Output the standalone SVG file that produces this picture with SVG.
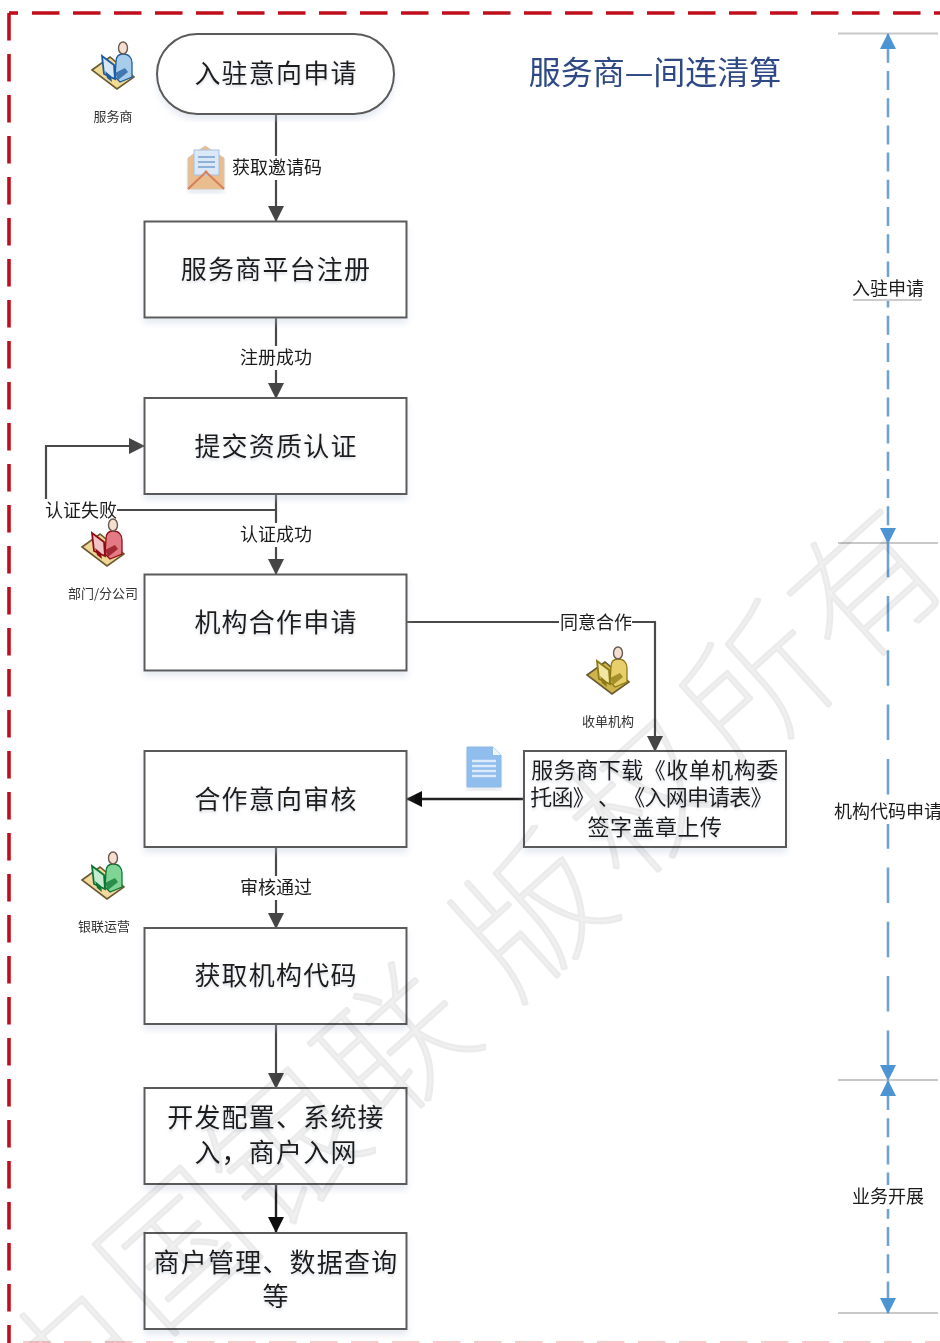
<svg xmlns="http://www.w3.org/2000/svg" width="940" height="1343" viewBox="0 0 940 1343">
<style>
text{font-family:"Noto Sans CJK SC","Liberation Sans",sans-serif;fill:#1c1c1c;text-anchor:middle;text-spacing-trim:space-all}
.box{fill:#fff;stroke:#5a5a5a;stroke-width:2;filter:url(#sh)}
.t{font-size:26px;letter-spacing:1.2px;filter:url(#ts)}
.t2{font-size:22px;letter-spacing:.5px;filter:url(#ts)}
.lb{font-size:18px}
.lbbg{fill:#fff}
.sm{font-size:13px;fill:#333}
.c{fill:none;stroke:#4a4a4a;stroke-width:2.2}
.k{fill:none;stroke:#222;stroke-width:2.4}
.blue{fill:none;stroke:#6fa3cf;stroke-width:2.6;stroke-dasharray:19 8.2}
.blue2{fill:none;stroke:#6fa3cf;stroke-width:2.6;stroke-dasharray:35.500 18.800}
.tick{stroke:#c8c8c8;stroke-width:2;fill:none}
.wm text{font-size:145px;font-weight:100;fill:#f0f0f0;stroke:#ebebeb;stroke-width:2.5;stroke-linejoin:bevel}
.wm{mix-blend-mode:multiply}
.red{fill:none;stroke:#c00d1e;stroke-width:3.600;stroke-dasharray:27.500 13.500}
</style>
<defs>
<filter id="soft" filterUnits="userSpaceOnUse" x="0" y="0" width="940" height="1343"><feGaussianBlur stdDeviation="0.4"/></filter>
<filter id="sh" x="-5%" y="-5%" width="110%" height="115%"><feDropShadow dx="0" dy="5" stdDeviation="3" flood-color="#b9c8dc" flood-opacity=".35"/></filter>
<filter id="ts" x="-5%" y="-10%" width="110%" height="130%"><feDropShadow dx="0" dy="2" stdDeviation="1.500" flood-color="#8a96a6" flood-opacity=".35"/></filter>
<marker id="a" viewBox="0 0 16 16" refX="15" refY="8" markerWidth="16" markerHeight="16" markerUnits="userSpaceOnUse" orient="auto"><path d="M0 0L16 8L0 16Z" fill="#444"/></marker>
<marker id="ak" viewBox="0 0 16 16" refX="15" refY="8" markerWidth="16" markerHeight="16" markerUnits="userSpaceOnUse" orient="auto"><path d="M0 0L16 8L0 16Z" fill="#111"/></marker>
<marker id="ab" viewBox="0 0 16 16" refX="15" refY="8" markerWidth="16" markerHeight="16" markerUnits="userSpaceOnUse" orient="auto-start-reverse"><path d="M0 0L16 8L0 16Z" fill="#4e94d2"/></marker>
<g id="person">
<path d="M-21 2L-3 -11L21 9L4 21Z" fill="var(--desk)" stroke="#6b5a33" stroke-width="1.600"/>
<path d="M3 -6C3 -12 6 -14 10 -14C16 -14 19 -10 19 -5L19 9L7 14L2 9Z" fill="var(--body)" stroke="var(--dark)" stroke-width="1.300"/>
<ellipse cx="10" cy="-20" rx="4.500" ry="6" fill="#f3dfd2" stroke="#6a5a50" stroke-width="1.400"/>
<path d="M-11 -12L1 -3L2 11L-9 6Z" fill="var(--screen)" stroke="var(--dark)" stroke-width="1.800"/>
<path d="M-8 3L-2 8L-1 14L-6 10Z" fill="var(--dark)"/>
<path d="M2 5L12 0L15 4L5 12Z" fill="var(--dark)" opacity=".75"/>
</g>
</defs>
<rect width="940" height="1343" fill="#fff"/>
<g filter="url(#soft)">
<g id="frame">
<path class="red" d="M32 13H940"/>
<path d="M9 13H18" fill="none" stroke="#c00d1e" stroke-width="3.600"/>
<path class="red" d="M9 13V1343"/>
<path d="M23 1342H940" fill="none" stroke="#f7c9c9" stroke-width="2" stroke-dasharray="27.500 13.500"/>
</g>
<g id="connectors">
<path class="c" marker-end="url(#a)" d="M276 114V221"/>
<path class="c" marker-end="url(#a)" d="M276 318V398"/>
<path class="c" marker-end="url(#a)" d="M276 494V574"/>
<path class="c" marker-end="url(#a)" d="M276 510H46V446H144"/>
<path class="c" marker-end="url(#a)" d="M407 622H655V751"/>
<path class="k" marker-end="url(#ak)" d="M523 799H407"/>
<path class="c" marker-end="url(#a)" d="M276 848V928"/>
<path class="c" marker-end="url(#a)" d="M276 1024V1088"/>
<path class="k" marker-end="url(#ak)" d="M276 1185V1232"/>
<g id="labels">
<rect class="lbbg" x="231" y="156" width="91" height="24"/><text class="lb" x="277" y="174">获取邀请码</text>
<rect class="lbbg" x="240" y="346" width="73" height="24"/><text class="lb" x="276" y="364">注册成功</text>
<rect class="lbbg" x="44" y="499" width="73" height="24"/><text class="lb" x="81" y="517">认证失败</text>
<rect class="lbbg" x="240" y="523" width="73" height="24"/><text class="lb" x="276" y="541">认证成功</text>
<rect class="lbbg" x="559" y="611" width="73" height="24"/><text class="lb" x="596" y="629">同意合作</text>
<rect class="lbbg" x="240" y="876" width="73" height="24"/><text class="lb" x="276" y="894">审核通过</text>
</g>
</g>
<g id="n-start"><rect class="box" x="157" y="34" width="237" height="80" rx="40"/><text class="t" x="276" y="83">入驻意向申请</text></g>
<g id="n-register"><rect class="box" x="144.500" y="221.500" width="262" height="96"/><text class="t" x="276" y="279">服务商平台注册</text></g>
<g id="n-qualify"><rect class="box" x="144.500" y="398" width="262" height="96"/><text class="t" x="276" y="456">提交资质认证</text></g>
<g id="n-apply"><rect class="box" x="144.500" y="574.500" width="262" height="96"/><text class="t" x="276" y="632">机构合作申请</text></g>
<g id="n-review"><rect class="box" x="144.500" y="751" width="262" height="96"/><text class="t" x="276" y="809">合作意向审核</text></g>
<g id="n-code"><rect class="box" x="144.500" y="928" width="262" height="96"/><text class="t" x="276" y="985">获取机构代码</text></g>
<g id="n-dev"><rect class="box" x="144.500" y="1088" width="262" height="96"/><text class="t" x="276" y="1127">开发配置、系统接</text><text class="t" x="276" y="1162">入，商户入网</text></g>
<g id="n-manage"><rect class="box" x="144.500" y="1233" width="262" height="96"/><text class="t" x="276" y="1272">商户管理、数据查询</text><text class="t" x="276" y="1306">等</text></g>
<g id="n-download"><rect class="box" x="524" y="751" width="262" height="96"/><text class="t2" x="655" y="778">服务商下载《收单机构委</text><text class="t2" x="651" y="805" style="letter-spacing:-.8px">托函》 、 《入网申请表》</text><text class="t2" x="655" y="835">签字盖章上传</text></g>
<g id="title"><text x="655" y="84" style="font-size:32px;fill:#2f4a86">服务商—间连清算</text></g>
<g id="role-provider" style="--desk:#f2dc94;--body:#a8cdea;--dark:#1f5aa0;--screen:#d5e6f5"><use href="#person" transform="translate(113 68)"/><text class="sm" x="113" y="121">服务商</text></g>
<g id="role-branch" style="--desk:#efd596;--body:#e47a84;--dark:#8d1019;--screen:#f1c2c6"><use href="#person" transform="translate(103 545)"/><text class="sm" x="103" y="598">部门/分公司</text></g>
<g id="role-acquirer" style="--desk:#cdb54b;--body:#e8cf6c;--dark:#8d7a13;--screen:#f2e6a2"><use href="#person" transform="translate(608 673)"/><text class="sm" x="608" y="726">收单机构</text></g>
<g id="role-unionpay" style="--desk:#f1d9a0;--body:#7fd596;--dark:#0e7433;--screen:#c4ecd0"><use href="#person" transform="translate(103 878)"/><text class="sm" x="104" y="931">银联运营</text></g>
<g id="icon-mail">
<path d="M188 158L205 146L224 158V189H188Z" fill="#e9bd8e" stroke="#d6c6b0" filter="url(#sh)"/>
<rect x="194" y="150" width="25" height="25" fill="#dbe8f7" stroke="#a9c1de"/>
<path d="M198 157H215M198 162H215M198 167H215" stroke="#8fb1d8" stroke-width="2"/>
<path d="M188 189L207 171M224 189L205 171" stroke="#d77f58" stroke-width="2"/>
</g>
<g id="icon-doc">
<path d="M467 747H493L501 755V787H467Z" fill="#8fbdee" stroke="#8db9e4" filter="url(#sh)"/>
<path d="M493 747V755H501Z" fill="#eef5fc"/>
<path d="M472 761H496M472 766H496M472 771H496M472 776H496" stroke="#dceafa" stroke-width="2.500"/>
</g>
<g id="timeline">
<path class="tick" d="M838 33.500H938M838 543H938M838 1080H938M838 1313H938"/>
<path class="blue" style="stroke-dashoffset:17.400" marker-start="url(#ab)" marker-end="url(#ab)" d="M888 34V543"/>
<path class="blue2" marker-end="url(#ab)" d="M888 541.700V1080"/>
<path class="blue" style="stroke-dashoffset:17.200" marker-start="url(#ab)" marker-end="url(#ab)" d="M888 1081V1313"/>
<rect class="lbbg" x="852" y="277" width="73" height="24"/><text class="lb" x="888" y="295">入驻申请</text>
<path d="M853 300H922" stroke="#bbb" stroke-width="1.500"/>
<rect class="lbbg" x="833" y="800" width="107" height="24"/><text class="lb" x="888" y="818">机构代码申请</text>
<rect class="lbbg" x="852" y="1185" width="73" height="24"/><text class="lb" x="888" y="1203">业务开展</text>
</g>
<g id="watermark" class="wm">
<text transform="translate(68 1365) rotate(-42)" y="52">中</text>
<text transform="translate(177 1250) rotate(-42)" y="52">国</text>
<text transform="translate(287 1150) rotate(-42)" y="52">银</text>
<text transform="translate(397 1045) rotate(-42)" y="52">联</text>
<text transform="translate(533 915) rotate(-42)" y="52">版</text>
<text transform="translate(645 800) rotate(-42)" y="52">权</text>
<text transform="translate(757 687) rotate(-42)" y="52">所</text>
<text transform="translate(866 587) rotate(-42)" y="52">有</text>
</g>
</g>
</svg>
